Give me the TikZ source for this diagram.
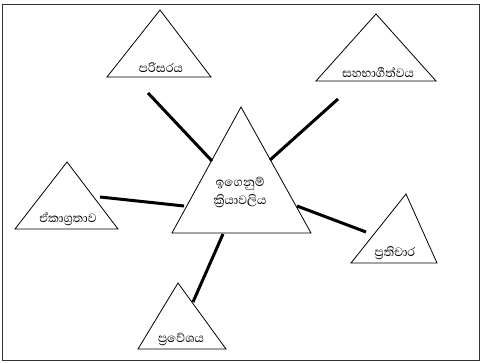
\documentclass[tikz,border=0pt]{standalone}
\usepackage{fontspec}
\newfontfamily\sinhala[Script=Sinhala]{Abhaya Libre}
\begin{document}
\begin{tikzpicture}[x=1pt,y=-1pt,
  tri/.style={draw=black,line width=0.8pt,fill=white,line join=miter},
  link/.style={draw=black,line width=3pt},
  lbl/.style={font=\sinhala\fontsize{15.5}{17}\selectfont,inner sep=0pt,align=center}]
\useasboundingbox (0,0) rectangle (481,363);
\draw[line width=1.4pt,black!80] (2.5,4.5) rectangle (479.5,360.5);
% triangles
\draw[tri] (160,10) -- (211,77) -- (107,77) -- cycle;
\draw[tri] (376,14) -- (436,81) -- (316,81) -- cycle;
\draw[tri] (241,107) -- (311,233) -- (172,233) -- cycle;
\draw[tri] (67,162) -- (118,229) -- (15,229) -- cycle;
\draw[tri] (406,194) -- (437,263) -- (351,263) -- cycle;
\draw[tri] (178,283) -- (226,349) -- (138,349) -- cycle;
% labels
\node[lbl] (paris) at (161,68) {පරිසරය};
\node[lbl] (saha) at (378,72) {සහභාගීත්වය};
\node[lbl] (center) at (240,192) {ඉගෙනුම්\\[1pt]ක්^^^^200dරියාවලිය};
\node[lbl] (eka) at (68,219) {ඒකාග්^^^^200dරතාව};
\node[lbl] (prati) at (395,253) {ප්^^^^200dරතිචාර};
\node[lbl] (prave) at (181,339) {ප්^^^^200dරවේශය};
% connector endpoints
\coordinate (c1) at (212,161);
\coordinate (o1) at (148,93);
\coordinate (c2) at (270,160);
\coordinate (o2) at (338,99);
\coordinate (c3) at (184,206);
\coordinate (o3) at (100,197);
\coordinate (c4) at (297,206);
\coordinate (o4) at (366,232);
\coordinate (c5) at (223,234);
\coordinate (o5) at (193,302);
\draw[link] (o1) -- (c1);
\draw[link] (o2) -- (c2);
\draw[link] (o3) -- (c3);
\draw[link] (o4) -- (c4);
\draw[link] (o5) -- (c5);
\end{tikzpicture}
\end{document}
